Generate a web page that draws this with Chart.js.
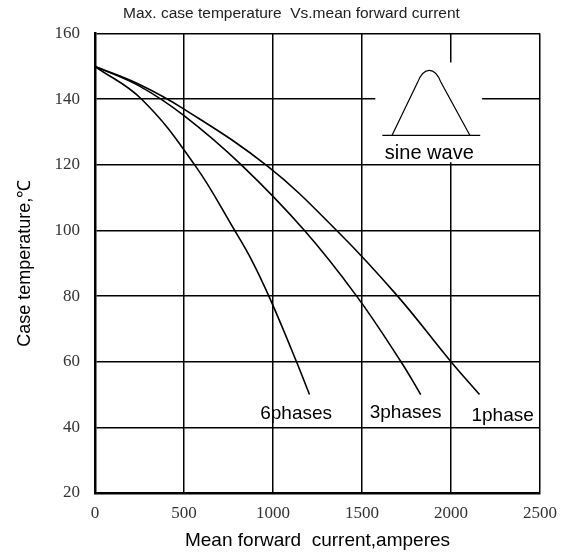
<!DOCTYPE html>
<html>
<head>
<meta charset="utf-8">
<script src="https://cdn.jsdelivr.net/npm/chart.js@4"></script>
<style>
  html, body { margin: 0; padding: 0; background: #fff; }
  #wrap { width: 567px; height: 555px; }
</style>
</head>
<body>
<div id="wrap"><canvas id="tempChart" width="567" height="555"></canvas></div>
<script>
// mean forward current (A) vs max case temperature (C)
const phase6X = [0, 262, 560, 785, 880, 985, 1132, 1205];
const phase6Y = [150, 140, 120, 100, 91, 79, 60, 50];
const phase3X = [0, 250, 500, 822, 1177, 1470, 1719, 1830];
const phase3Y = [150, 144, 135, 120, 100, 80, 60, 50];
const phase1X = [0, 250, 500, 971, 1358, 1700, 2000, 2160];
const phase1Y = [150, 144.5, 137, 119.5, 100, 80, 60, 50];

const xTicks = [0, 500, 1000, 1500, 2000, 2500];
const yTicks = [20, 40, 60, 80, 100, 120, 140, 160];

const curveLabels = [
    { text: '6phases', x: 1130, y: 44 },
    { text: '3phases', x: 1745, y: 44.5 },
    { text: '1phase', x: 2290, y: 43.5 }
];

function toPoints(xs, ys) {
    return xs.map((x, i) => ({ x: x, y: ys[i] }));
}

function curve(label, xs, ys) {
    return {
        label: label,
        data: toPoints(xs, ys),
        borderColor: '#000',
        borderWidth: 1.6,
        pointRadius: 0,
        fill: false,
        tension: 0.4
    };
}

// inset (sine wave sketch) + curve name labels
const annotations = {
    id: 'annotations',
    beforeDatasetsDraw(chart) {
        const { ctx, scales: { x, y } } = chart;
        ctx.save();
        // white box hiding grid behind the sketch
        const bx0 = x.getPixelForValue(1575), bx1 = x.getPixelForValue(2175);
        const by0 = y.getPixelForValue(151.2), by1 = y.getPixelForValue(120.8);
        ctx.fillStyle = '#fff';
        ctx.fillRect(bx0, by0, bx1 - bx0, by1 - by0);

        ctx.strokeStyle = '#000';
        ctx.lineWidth = 1.2;
        const base = y.getPixelForValue(129);
        ctx.beginPath();
        ctx.moveTo(x.getPixelForValue(1614), base);
        ctx.lineTo(x.getPixelForValue(2164), base);
        ctx.stroke();

        // hump
        const xl = x.getPixelForValue(1669), xr = x.getPixelForValue(2106);
        const xc = x.getPixelForValue(1878), top = y.getPixelForValue(148.8);
        const w = xr - xl;
        ctx.beginPath();
        ctx.moveTo(xl, base);
        ctx.lineTo(xc - w * 0.15, top + 12);
        ctx.bezierCurveTo(xc - w * 0.07, top - 4, xc + w * 0.07, top - 4, xc + w * 0.15, top + 12);
        ctx.lineTo(xr, base);
        ctx.stroke();

        ctx.fillStyle = '#000';
        ctx.font = '20px "Liberation Sans", Arial, sans-serif';
        ctx.textAlign = 'center';
        ctx.textBaseline = 'middle';
        ctx.fillText('sine wave', xc, y.getPixelForValue(123.4));
        ctx.restore();
    },
    afterDatasetsDraw(chart) {
        const { ctx, scales: { x, y } } = chart;
        ctx.save();
        ctx.fillStyle = '#000';
        ctx.font = '19px "Liberation Sans", Arial, sans-serif';
        ctx.textAlign = 'center';
        ctx.textBaseline = 'middle';
        curveLabels.forEach(l => {
            ctx.fillText(l.text, x.getPixelForValue(l.x), y.getPixelForValue(l.y));
        });
        ctx.restore();
    }
};

const ctx = document.getElementById('tempChart').getContext('2d');
const tempChart = new Chart(ctx, {
    type: 'line',
    data: {
        datasets: [
            curve('6phases', phase6X, phase6Y),
            curve('3phases', phase3X, phase3Y),
            curve('1phase', phase1X, phase1Y)
        ]
    },
    options: {
        responsive: false,
        animation: false,
        // left padding only shifts the page title so it sits where the original has it
        layout: { padding: { left: 42, right: 26, top: 0, bottom: 0 } },
        plugins: {
            legend: { display: false },
            tooltip: { enabled: false },
            title: {
                display: true,
                text: 'Max. case temperature  Vs.mean forward current',
                color: '#222',
                font: { family: '"Liberation Sans", Arial, sans-serif', size: 15.5, weight: 'normal' },
                padding: { top: 4, bottom: 11 }
            }
        },
        scales: {
            x: {
                type: 'linear',
                min: 0,
                max: 2500,
                afterBuildTicks: (scale) => { scale.ticks = xTicks.map(v => ({ value: v })); },
                afterFit: (scale) => { scale.height = 62; },
                ticks: {
                    color: '#333',
                    padding: 10,
                    maxRotation: 0,
                    callback: (v) => String(v),
                    font: { family: '"Liberation Serif", "Times New Roman", serif', size: 17 }
                },
                grid: { color: '#000', lineWidth: 1.5, drawTicks: false },
                border: { color: '#000', width: 2.5 },
                title: {
                    display: true,
                    text: 'Mean forward  current,amperes',
                    color: '#000',
                    font: { family: '"Liberation Sans", Arial, sans-serif', size: 19 },
                    padding: { top: 0, bottom: 3 }
                }
            },
            y: {
                type: 'linear',
                min: 20,
                max: 160,
                afterBuildTicks: (scale) => { scale.ticks = yTicks.map(v => ({ value: v })); },
                afterFit: (scale) => { scale.width = 53; },
                ticks: {
                    color: '#333',
                    padding: 15,
                    callback: (v) => String(v),
                    font: { family: '"Liberation Serif", "Times New Roman", serif', size: 17 }
                },
                grid: { color: '#000', lineWidth: 1.5, drawTicks: false },
                border: { color: '#000', width: 2.5 },
                title: {
                    display: true,
                    text: 'Case temperature,℃',
                    color: '#000',
                    font: { family: '"Liberation Sans", Arial, sans-serif', size: 18 },
                    padding: { top: -28, bottom: 0 }
                }
            }
        }
    },
    plugins: [annotations]
});
</script>
</body>
</html>
